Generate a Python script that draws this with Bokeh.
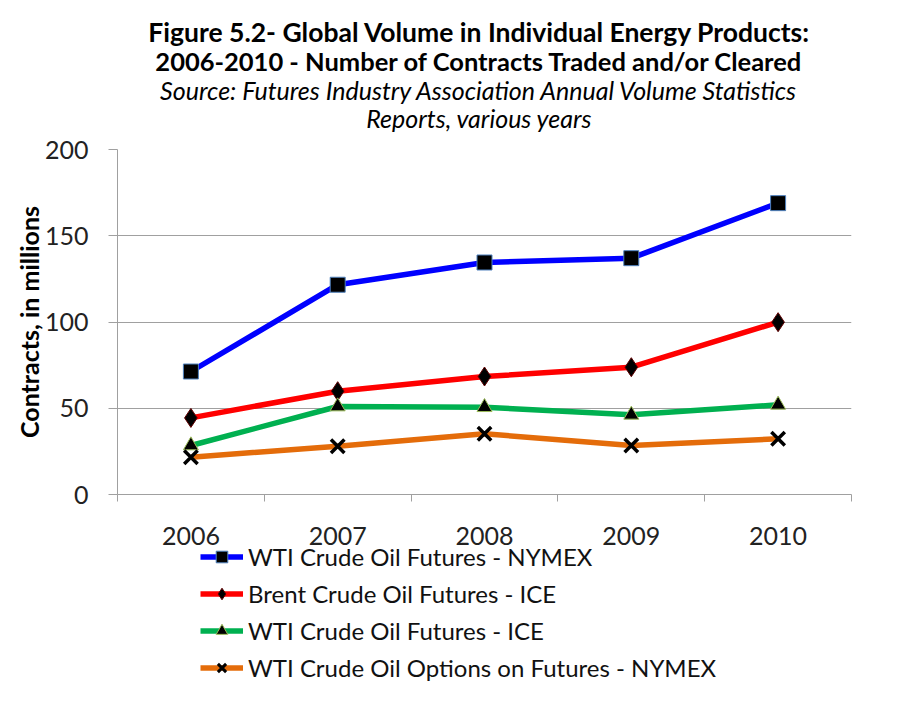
from bokeh.plotting import figure
from bokeh.layouts import column
from bokeh.models import Range1d, FixedTicker, Legend, LegendItem, Label
from bokeh.embed import file_html
from bokeh.resources import INLINE

# ---- data ----
years = ["2006", "2007", "2008", "2009", "2010"]
wti_nymex = [71.3, 121.6, 134.5, 137.0, 168.9]
brent_ice = [44.4, 59.9, 68.4, 73.8, 99.9]
wti_ice = [28.4, 51.0, 50.6, 46.2, 52.0]
wti_options = [21.6, 28.0, 35.2, 28.4, 32.3]
series_names = [
    "WTI Crude Oil Futures - NYMEX",
    "Brent Crude Oil Futures - ICE",
    "WTI Crude Oil Futures - ICE",
    "WTI Crude Oil Options on Futures - NYMEX",
]
y_ticks = [0, 50, 100, 150, 200]
title_lines = [
    "Figure 5.2- Global Volume in Individual Energy Products:",
    "2006-2010 - Number of Contracts Traded and/or Cleared",
    "Source: Futures Industry Association Annual Volume Statistics",
    "Reports, various years",
]
y_label = "Contracts, in millions"

# ---- styles ----
FONT = "Lato"
colors = ["#0000FF", "#FF0000", "#00B050", "#E46C0A"]
markers = ["square", "diamond", "triangle", "x"]
msizes = [15, 19, 15, 19]
mline = ["#4F81BD", "#600000", "#9BBB59", "#000000"]
mlw = [1, 1, 1, 3.5]
GRID = "#A0A0A0"
TICK_FS = "25px"
BL, BR = 117, 32   # shared left / right borders (column aligns frames)

W = 883
H0, H1, H2 = 135, 414, 143   # title strip, chart, legend strip

def strip(height):
    f = figure(width=W, height=height, output_backend="svg", toolbar_location=None,
               x_range=Range1d(-2, -1), y_range=Range1d(-2, -1),
               x_axis_type=None, y_axis_type=None,
               min_border_left=BL, min_border_right=BR,
               min_border_top=0, min_border_bottom=0)
    f.outline_line_color = None
    f.grid.visible = False
    f.background_fill_alpha = 0
    f.border_fill_alpha = 0
    return f

# ---- title strip ----
p0 = strip(H0)
title_y = [104, 75, 46, 18]
title_styles = ["bold", "bold", "italic", "italic"]
title_sizes = ["26.5px", "25.5px", "25px", "25px"]
for t, yy, st, sz in zip(title_lines, title_y, title_styles, title_sizes):
    p0.add_layout(Label(x=362, y=yy, x_units="screen", y_units="screen", text=t,
                        text_align="center", text_baseline="middle",
                        text_font=FONT, text_font_style=st, text_font_size=sz,
                        text_color="black"))

# ---- chart ----
p = figure(width=W, height=H1, output_backend="svg", toolbar_location=None,
           x_range=Range1d(0, len(years)), y_range=Range1d(y_ticks[0], y_ticks[-1]),
           min_border_left=BL, min_border_right=BR,
           min_border_top=14, min_border_bottom=H1 - 359)
p.outline_line_color = None
p.background_fill_color = "white"
p.border_fill_color = "white"

xs = [i + 0.5 for i in range(len(years))]

p.yaxis.ticker = FixedTicker(ticks=y_ticks)
p.yaxis.major_tick_out = 9
p.yaxis.major_tick_in = 0
p.yaxis.minor_tick_line_color = None
p.yaxis.major_tick_line_color = GRID
p.yaxis.axis_line_color = GRID
p.yaxis.major_label_standoff = 20
p.yaxis.major_label_text_font = FONT
p.yaxis.major_label_text_font_size = TICK_FS
p.yaxis.major_label_text_color = "#222222"
p.yaxis.axis_label = y_label
p.yaxis.axis_label_standoff = -2
p.yaxis.axis_label_text_font = FONT
p.yaxis.axis_label_text_font_style = "bold"
p.yaxis.axis_label_text_font_size = "25px"
p.yaxis.axis_label_text_color = "black"

p.xaxis.ticker = FixedTicker(ticks=xs, minor_ticks=list(range(len(years) + 1)))
p.xaxis.major_tick_out = 0
p.xaxis.major_tick_in = 0
p.xaxis.minor_tick_out = 7
p.xaxis.minor_tick_in = 0
p.xaxis.minor_tick_line_color = GRID
p.xaxis.axis_line_color = GRID
p.xaxis.major_label_overrides = {x: y for x, y in zip(xs, years)}
p.xaxis.major_label_standoff = 25
p.xaxis.major_label_text_font = FONT
p.xaxis.major_label_text_font_size = TICK_FS
p.xaxis.major_label_text_color = "#222222"

p.xgrid.visible = False
p.ygrid.ticker = FixedTicker(ticks=y_ticks)
p.ygrid.grid_line_color = GRID

all_vals = [wti_nymex, brent_ice, wti_ice, wti_options]
for vals, c, m, ms, ml, lw in zip(all_vals, colors, markers, msizes, mline, mlw):
    p.line(xs, vals, line_color=c, line_width=5.5)
    p.scatter(xs, vals, marker=m, size=ms, fill_color="black",
              line_color=ml, line_width=lw)

# ---- legend strip (same series, drawn off-range so only the legend shows) ----
p2 = strip(H2)
p2.margin = (-7, 0, 0, 0)
items = []
for name, vals, c, m, ml, lw in zip(series_names, all_vals, colors, markers, mline, mlw):
    lr = p2.line(xs, vals, line_color=c, line_width=5.5)
    sr = p2.scatter(xs, vals, marker=m, fill_color="black", line_color=ml,
                    line_width=min(lw, 3))
    items.append(LegendItem(label=name, renderers=[lr, sr]))

legend = Legend(items=items, location=(83, H2 - 140), orientation="vertical",
                glyph_width=43, glyph_height=29, label_height=22, spacing=8,
                padding=0, margin=0, label_standoff=5,
                border_line_color=None, background_fill_alpha=0,
                label_text_font=FONT, label_text_font_size="24px",
                label_text_color="#111111")
p2.add_layout(legend, "center")

layout = column(p0, p, p2, spacing=0)
open("out.html", "w").write(file_html(layout, INLINE))
